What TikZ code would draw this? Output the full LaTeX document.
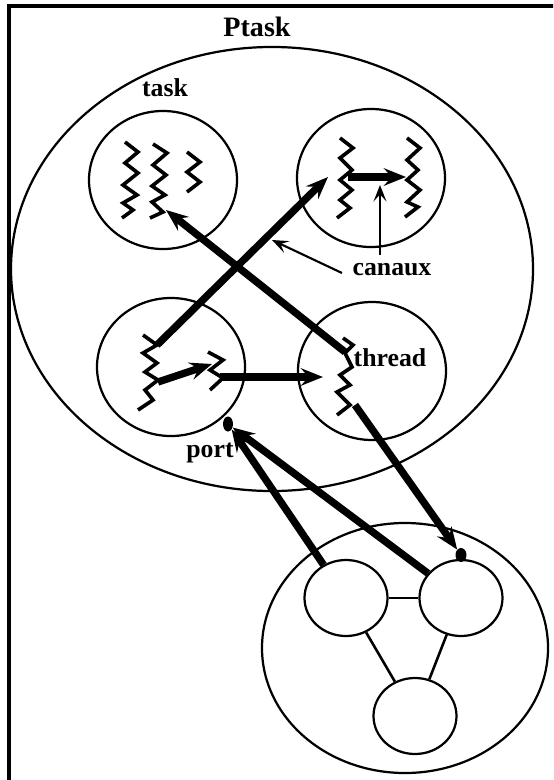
\documentclass[tikz,border=0pt]{standalone}
\usepackage{fontspec}
\setmainfont{Liberation Serif}
\usetikzlibrary{shapes.geometric,arrows.meta}

\begin{document}
\begin{tikzpicture}[x=0.03cm, y=-0.03cm,
    bulle/.style={draw, ellipse, line width=1.9pt, inner sep=0pt},
    fil/.style={line width=3.1pt, line join=miter, line cap=butt},
    canal/.style={line width=6.3pt, -{Stealth[length=19pt, width=15pt, inset=7pt]}},
    fleche/.style={line width=1.8pt, -{Stealth[length=14pt, width=11pt, inset=6pt]}},
    etiq/.style={font=\bfseries\fontsize{22}{24}\selectfont, inner sep=0pt},
    portdot/.style={fill, ellipse, inner sep=0pt}]
  \useasboundingbox (0,0) rectangle (553,780);
  \clip (0,0) rectangle (553,780);
  % cadre
  \draw[line width=2.6pt] (9,800) -- (9,6) -- (580,6);
  \node[etiq, font=\bfseries\fontsize{24}{26}\selectfont] (titre) at (257,27) {Ptask};

  % la tache et ses quatre threads
  \node[bulle, minimum width=15.66cm, minimum height=13.32cm] (task) at (272,269) {};
  \node[etiq] (ltask) at (165,88) {task};
  \node[bulle, minimum width=4.44cm, minimum height=4.14cm] (c1) at (163,180) {};
  \node[bulle, minimum width=4.44cm, minimum height=4.14cm] (c2) at (371,178) {};
  \node[bulle, minimum width=4.44cm, minimum height=4.14cm] (c3) at (171,367) {};
  \node[bulle, minimum width=4.44cm, minimum height=4.14cm] (c4) at (372,371) {};

  % fils d'execution
  \draw[fil] (125,142) -- (138,152) -- (125,163) -- (138,173) -- (123,185) -- (137,195) -- (123,203) -- (133,210) -- (122,218);
  \draw[fil] (153,144) -- (167,153) -- (153,165) -- (166,175) -- (152,186) -- (165,195) -- (152,202) -- (163,212) -- (150,218);
  \draw[fil] (187,152) -- (200,162) -- (187,172) -- (200,182) -- (187,192);
  \draw[fil] (340,138) -- (353,148) -- (340,158) -- (352,170) -- (340,180) -- (352,190) -- (340,200) -- (350,208) -- (337,218);
  \draw[fil] (407,138) -- (420,148) -- (407,160) -- (418,170) -- (407,180) -- (420,190) -- (407,202) -- (418,207) -- (405,217);
  \draw[fil] (143,335) -- (157,345) -- (143,353) -- (157,363) -- (145,372) -- (158,380) -- (145,390) -- (153,400) -- (138,410);
  \draw[fil] (208,352) -- (223,360) -- (210,370) -- (223,378) -- (210,390);
  \draw[fil] (343,338) -- (353,345) -- (345,353) -- (352,367) -- (340,375) -- (350,385) -- (337,392) -- (350,405) -- (337,415);
  \node[etiq] (lthread) at (390,358) {thread};

  % l'application exterieure
  \node[bulle, minimum width=8.58cm, minimum height=7.5cm] (ext) at (405,648) {};
  \node[bulle, minimum width=2.49cm, minimum height=2.28cm] (sa) at (346,598) {};
  \node[bulle, minimum width=2.49cm, minimum height=2.28cm] (sb) at (461,598) {};
  \node[bulle, minimum width=2.49cm, minimum height=2.28cm] (sc) at (415,716) {};
  \draw[line width=2.2pt] (sa) -- (sb);
  \draw[line width=2.2pt] (sa) -- (sc);
  \draw[line width=2.2pt] (sb) -- (sc);

  % ports
  \node[portdot, minimum width=0.3cm, minimum height=0.45cm] (port1) at (228,424) {};
  \node[portdot, minimum width=0.33cm, minimum height=0.42cm] (port2) at (461,555) {};
  \node[etiq] (lport) at (210,453) {port};

  % canaux
  \coordinate (t4h) at (345,352);
  \coordinate (t1b) at (166,210);
  \coordinate (t3h) at (157,345);
  \coordinate (t2g) at (328,177);
  \coordinate (t3m) at (158,382);
  \coordinate (t3d) at (212,364);
  \coordinate (t3s) at (220,377);
  \coordinate (t4m) at (323,377);
  \coordinate (t2m) at (348,177);
  \coordinate (t2d) at (406,177);
  \coordinate (t4b) at (355,405);
  \draw[canal] (t4h) -- (t1b);
  \draw[canal] (t3h) -- (t2g);
  \draw[canal] (t3m) -- (t3d);
  \draw[canal] (t3s) -- (t4m);
  \draw[canal] (t2m) -- (t2d);
  \draw[canal] (t4b) -- (port2);
  \draw[canal] (sa) -- (port1);
  \draw[canal] (sb) -- (port1);

  \node[etiq] (lcanaux) at (392,270) {canaux};
  \coordinate (ca1) at (342,273);
  \coordinate (ca2) at (272,240);
  \coordinate (ca3) at (380,255);
  \coordinate (ca4) at (380,185);
  \draw[fleche] (ca1) -- (ca2);
  \draw[fleche] (ca3) -- (ca4);
\end{tikzpicture}
\end{document}
